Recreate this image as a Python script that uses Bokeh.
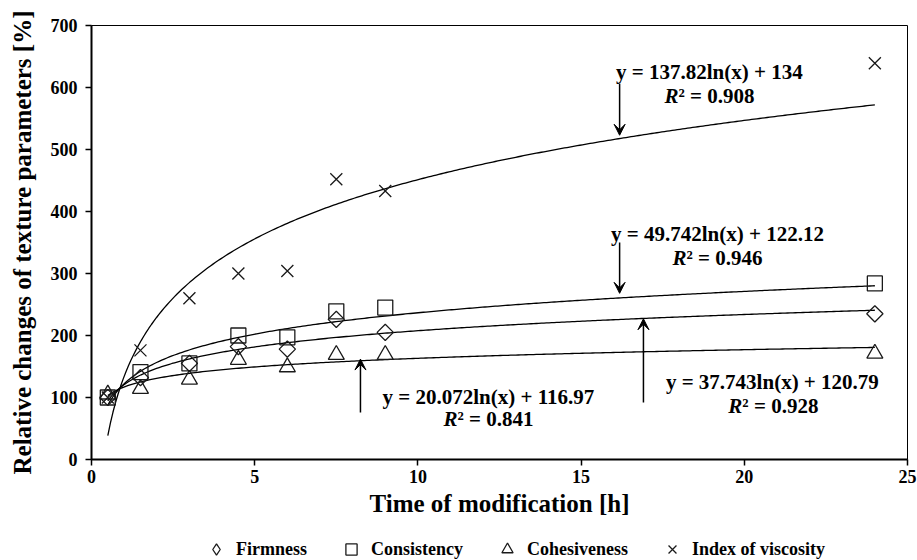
import numpy as np
from bokeh.plotting import figure
from bokeh.layouts import column
from bokeh.models import (Range1d, FixedTicker, Legend, LegendItem, Arrow, VeeHead,
                          ColumnDataSource)
from bokeh.core.properties import value
from bokeh.embed import file_html
from bokeh.resources import INLINE

# ---------------- data ----------------
time_h = [0.5, 1.5, 3, 4.5, 6, 7.5, 9, 24]
firmness = [100, 132, 155, 182, 178, 226, 205, 235]
consistency = [100, 141, 155, 200, 197, 239, 245, 284]
cohesiveness = [105, 114, 129, 161, 149, 169, 169, 171]
viscosity = [100, 176, 260, 300, 304, 452, 433, 639]

series_names = ["Firmness", "Consistency", "Cohesiveness", "Index of viscosity"]

# logarithmic trend lines shown on the chart: y = a ln(x) + b
trend_a = [37.743, 49.742, 20.072, 137.82]
trend_b = [120.79, 122.12, 116.97, 134]
trend_eq = ["y = 37.743ln(x) + 120.79", "y = 49.742ln(x) + 122.12",
            "y = 20.072ln(x) + 116.97", "y = 137.82ln(x) + 134"]
trend_r2 = ["\u00b2 = 0.928", "\u00b2 = 0.946", "\u00b2 = 0.841", "\u00b2 = 0.908"]

x_ticks = [0, 5, 10, 15, 20, 25]
y_ticks = [0, 100, 200, 300, 400, 500, 600, 700]

# ---------------- styling / positions ----------------
FONT = "Liberation Serif"
eq_pos = [(20.86, 125.8), (19.18, 364.5), (12.16, 101.0), (18.93, 625.8)]
r2_pos = [(20.86, 85.5), (19.15, 324.2), (12.13, 65.0), (18.90, 587.0)]
arrow_pos = [((16.91, 92), (16.91, 227)), ((16.18, 350), (16.18, 268)),
             ((8.24, 76), (8.24, 162)), ((16.18, 606), (16.18, 523))]

MAIN_H = 524
p = figure(width=917, height=MAIN_H, output_backend="svg", toolbar_location=None,
           x_range=Range1d(0, 25), y_range=Range1d(0, 700),
           min_border_left=91, min_border_right=10, min_border_top=25,
           min_border_bottom=MAIN_H - 25 - 434)
p.background_fill_color = "white"
p.border_fill_color = "white"
p.xgrid.visible = False
p.ygrid.visible = False
p.outline_line_color = "black"
p.outline_line_width = 1

for ax in (p.xaxis[0], p.yaxis[0]):
    ax.axis_line_width = 2
    ax.axis_line_color = "black"
    ax.major_tick_line_color = "black"
    ax.major_tick_line_width = 1.5
    ax.major_tick_out = 6
    ax.major_tick_in = 0
    ax.minor_tick_line_color = None
    ax.major_label_text_font = FONT
    ax.major_label_text_font_style = "bold"
    ax.major_label_text_font_size = "18px"
    ax.major_label_text_color = "black"
    ax.axis_label_text_font = FONT
    ax.axis_label_text_font_style = "bold"
    ax.axis_label_text_font_size = "25px"
    ax.axis_label_text_color = "black"

p.xaxis.ticker = FixedTicker(ticks=x_ticks)
p.yaxis.ticker = FixedTicker(ticks=y_ticks)
p.xaxis.axis_label = "Time of modification [h]"
p.yaxis.axis_label = "Relative changes of texture parameters [%]"
p.xaxis.major_label_standoff = 4
p.xaxis.axis_label_standoff = 4
p.yaxis.major_label_standoff = 8
p.yaxis.axis_label_standoff = 12

# trend lines
xs = np.linspace(0.5, 24, 300)
for a, b in zip(trend_a, trend_b):
    p.line(xs, a * np.log(xs) + b, line_color="black", line_width=1.3)

# data markers
src = ColumnDataSource(dict(t=time_h, f=firmness, c=consistency, h=cohesiveness, v=viscosity))
mk = dict(fill_color=None, line_color="#1a1a1a", line_width=1.3)
marker_spec = [dict(marker="square", angle=np.pi / 4, size=11.5),
               dict(marker="square", size=15),
               dict(marker="triangle", size=16),
               dict(marker="x", size=17)]
for col, spec in zip(["f", "c", "h", "v"], marker_spec):
    p.scatter("t", col, source=src, **spec, **mk)

# equations
for (ex, ey), (rx, ry), eq, r2 in zip(eq_pos, r2_pos, trend_eq, trend_r2):
    p.text([ex], [ey], text=[eq], text_font=value(FONT), text_font_style="bold",
           text_font_size="21px", text_align="center", text_baseline="middle",
           text_color="black")
    p.text([rx], [ry], text=["R"], text_font=value(FONT), text_font_style="bold italic",
           text_font_size="21px", text_align="right", text_baseline="middle",
           text_color="black", x_offset=-30)
    p.text([rx], [ry], text=[r2], text_font=value(FONT), text_font_style="bold",
           text_font_size="21px", text_align="left", text_baseline="middle",
           text_color="black", x_offset=-30)

# arrows
for (s, e) in arrow_pos:
    p.add_layout(Arrow(x_start=s[0], y_start=s[1], x_end=e[0], y_end=e[1],
                       line_color="black", line_width=1.5,
                       end=VeeHead(size=11, fill_color="black", line_color="black")))

# ---------------- legend strip ----------------
LEG_H = 560 - MAIN_H
pl = figure(width=917, height=LEG_H, output_backend="svg", toolbar_location=None,
            x_range=Range1d(0, 1), y_range=Range1d(0, 1),
            x_axis_type=None, y_axis_type=None,
            min_border_left=0, min_border_right=0, min_border_top=0, min_border_bottom=0)
pl.outline_line_color = None
pl.xgrid.visible = False
pl.ygrid.visible = False
legend_markers = ["diamond", "square", "triangle", "x"]
offscreen = ColumnDataSource(dict(x=[-10], y=[-10]))  # legend swatches only
leg_renderers = [pl.scatter("x", "y", source=offscreen, marker=m, **mk) for m in legend_markers]
legend = Legend(items=[LegendItem(label=n, renderers=[r]) for n, r in zip(series_names, leg_renderers)],
                orientation="horizontal", location=(111, -3),
                glyph_width=28, glyph_height=28, label_standoff=6, spacing=30,
                padding=0, margin=0, border_line_color=None,
                background_fill_alpha=0,
                label_text_font=FONT, label_text_font_style="bold",
                label_text_font_size="18px", label_text_color="black")
pl.add_layout(legend, "center")

open("out.html", "w").write(file_html(column(p, pl, spacing=0), INLINE))
